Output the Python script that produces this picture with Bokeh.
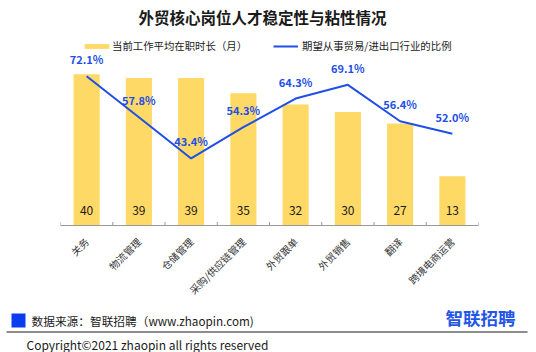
import math
from bokeh.plotting import figure
from bokeh.layouts import column
from bokeh.models import (ColumnDataSource, Range1d, LabelSet, Legend,
                          LegendItem, FactorRange)
from bokeh.transform import dodge
from bokeh.core.properties import value
from bokeh.embed import file_html
from bokeh.resources import INLINE

categories = ["关务", "物流管理", "仓储管理", "采购/供应链管理", "外贸跟单", "外贸销售", "翻译", "跨境电商运营"]
tenure_months = [40, 39, 39, 35, 32, 30, 27, 13]
stay_ratio = [72.1, 57.8, 43.4, 54.3, 64.3, 69.1, 56.4, 52.0]

title_text = "外贸核心岗位人才稳定性与粘性情况"
bar_name = "当前工作平均在职时长（月）"
line_name = "期望从事贸易/进出口行业的比例"
source_text = "数据来源：智联招聘（www.zhaopin.com)"
logo_text = "智联招聘"
copyright_text = "Copyright©2021 zhaopin all rights reserved"

FONT = "Noto Sans CJK SC"
BAR_COLOR = "#FFD966"
LINE_COLOR = "#1E4FE6"
TEXT_COLOR = "#1a1a1a"

W = 536
HEADER_H = 30
MAIN_H = 275
FOOTER_H = 352 - HEADER_H - MAIN_H


def blank_fig(height, y_top):
    f = figure(width=W, height=height, x_range=Range1d(0, W),
               y_range=Range1d(y_top + height, y_top),
               min_border=0, x_axis_location=None, y_axis_location=None,
               output_backend="svg", toolbar_location=None)
    f.frame_align = False
    f.outline_line_color = None
    f.grid.visible = False
    f.background_fill_color = "white"
    f.border_fill_color = "white"
    return f


# ---------- header ----------
header = blank_fig(HEADER_H, 0)
header.text(x=[262], y=[16], text=[title_text], text_align="center",
            text_baseline="middle", text_font=value(FONT), text_font_size="15.5px",
            text_font_style="bold", text_color=TEXT_COLOR)

# ---------- main chart ----------
src = ColumnDataSource(dict(
    cat=categories,
    months=tenure_months,
    months_label=[str(v) for v in tenure_months],
    ratio=stay_ratio,
    ratio_label=[f"{v:.1f}%" for v in stay_ratio],
))

p = figure(x_range=FactorRange(*categories, range_padding=0),
           y_range=Range1d(0, 51.58),
           width=W, height=MAIN_H,
           min_border_left=60, min_border_right=58,
           min_border_top=0, min_border_bottom=MAIN_H - 196,
           y_axis_location=None,
           output_backend="svg", toolbar_location=None)
p.frame_align = False
p.outline_line_color = None
p.grid.visible = False
p.background_fill_color = "white"
p.border_fill_color = "white"
p.extra_y_ranges = {"ratio": Range1d(20, 88.06)}

bars = p.vbar(x="cat", top="months", width=0.5, source=src,
              fill_color=BAR_COLOR, line_color=None)
line = p.line(x="cat", y="ratio", y_range_name="ratio", source=src,
              line_color=LINE_COLOR, line_width=2)

# tick marks at category boundaries
p.segment(x0=dodge("cat", -0.5, range=p.x_range), y0=0,
          x1=dodge("cat", -0.5, range=p.x_range), y1=0.92,
          source=src, line_color="#999999", line_width=1)
last_src = ColumnDataSource(dict(cat=[categories[-1]]))
p.segment(x0=dodge("cat", 0.5, range=p.x_range), y0=0,
          x1=dodge("cat", 0.5, range=p.x_range), y1=0.92,
          source=last_src, line_color="#999999", line_width=1)

p.xaxis.major_label_orientation = math.pi / 4
p.xaxis.major_tick_in = 0
p.xaxis.major_tick_out = 0
p.xaxis.axis_line_color = "#999999"
p.xaxis.major_label_text_font_size = "10px"
p.xaxis.major_label_text_font = FONT
p.xaxis.major_label_text_color = "#333333"
p.xaxis.major_label_standoff = 14

p.add_layout(LabelSet(x="cat", y="ratio", text="ratio_label", y_range_name="ratio",
                      source=src, y_offset=17, text_align="center", text_baseline="middle",
                      text_font=value(FONT), text_font_size="11px", text_font_style="bold",
                      text_color=LINE_COLOR))
p.add_layout(LabelSet(x="cat", y=0, text="months_label", source=src, y_offset=15,
                      text_align="center", text_baseline="middle",
                      text_font=value(FONT), text_font_size="12px", text_color=TEXT_COLOR))

legend_style = dict(orientation="horizontal", padding=0, margin=0,
                    label_height=10, label_text_font_size="10.4px", label_text_font=FONT,
                    label_text_color=TEXT_COLOR, border_line_color=None,
                    background_fill_alpha=0)
p.add_layout(Legend(items=[LegendItem(label=bar_name, renderers=[bars])],
                    location=(21, 172), glyph_width=31, glyph_height=6,
                    label_standoff=0, **legend_style))
p.add_layout(Legend(items=[LegendItem(label=line_name, renderers=[line])],
                    location=(213, 172), glyph_width=25, glyph_height=6,
                    label_standoff=4, **legend_style))

# ---------- footer ----------
footer = blank_fig(FOOTER_H, HEADER_H + MAIN_H)
footer.quad(left=[11], right=[25], top=[313], bottom=[327],
            fill_color="#0A3CF0", line_color=None)
footer.text(x=[31], y=[320], text=[source_text], text_align="left",
            text_baseline="middle", text_font=value(FONT), text_font_size="11.7px",
            text_color=TEXT_COLOR)
footer.text(x=[515], y=[317], text=[logo_text], text_align="right",
            text_baseline="middle", text_font=value(FONT), text_font_size="17.5px",
            text_font_style="bold", text_color="#2456E6")
footer.segment(x0=[6], y0=[331.5], x1=[527], y1=[331.5], line_color=TEXT_COLOR,
               line_width=1)
footer.text(x=[26], y=[343.5], text=[copyright_text], text_align="left",
            text_baseline="middle", text_font=value(FONT), text_font_size="12px",
            text_color=TEXT_COLOR)

layout = column(header, p, footer, spacing=0)
open("out.html", "w").write(file_html(layout, INLINE))
